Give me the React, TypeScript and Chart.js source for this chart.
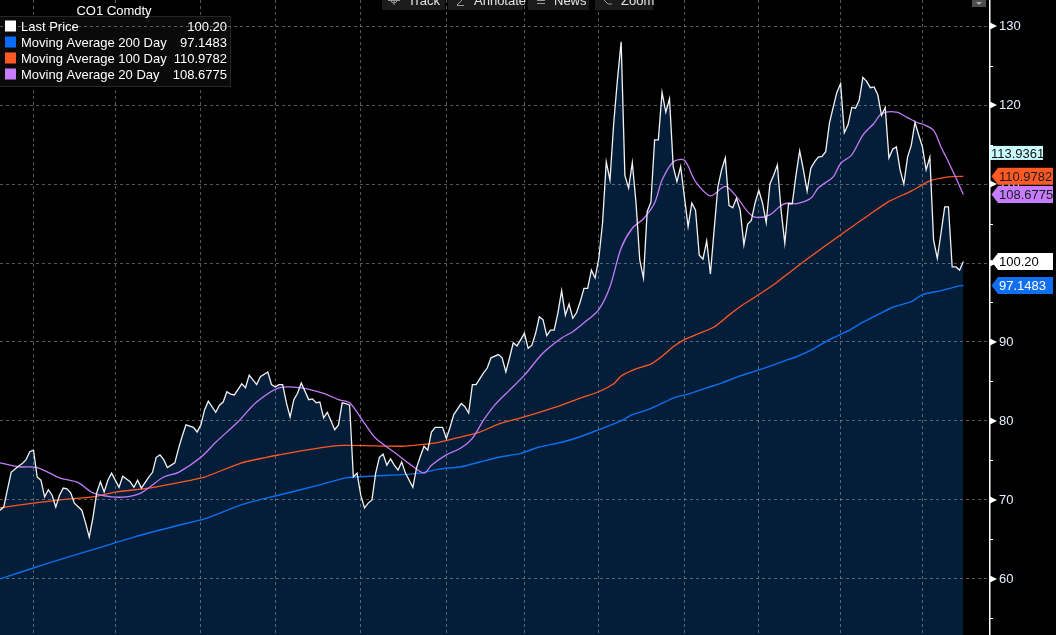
import React, { useEffect, useRef } from "react";
import { Chart, registerables } from "chart.js";

Chart.register(...registerables);

const FONT = '"Liberation Sans", Arial, sans-serif';

// ---- text ----
const chartTitle = "CO1 Comdty";
const seriesNames = ["Last Price", "Moving Average 200 Day", "Moving Average 100 Day", "Moving Average 20 Day"];
const lastValueLabels = ["100.20", "97.1483", "110.9782", "108.6775"];
const lastValues = [100.2, 97.1483, 110.9782, 108.6775];
const markerValue = 113.9361;
const markerLabel = "113.9361";
const toolbarButtons = ["Track", "Annotate", "News", "Zoom"];

// ---- axes ----
const yMin = 52.9;
const yMax = 133.3;
const yMajorTicks = [60, 70, 80, 90, 100, 110, 120, 130];
const yMinorTicks = [55, 65, 75, 85, 95, 105, 115, 125];
const sessionMax = 265.9;
// first trading session of each month (Aug .. Jul)
const monthStartSessions = [9, 31, 54, 74, 97, 120, 141, 161, 184, 204, 226, 248];

// ---- Last Price ----
const priceSessions = [
  0, 1, 2, 3, 5, 6, 7, 8, 9, 10, 11, 12, 13, 14, 15, 16, 17, 18, 19, 20,
  22, 23, 24, 25, 26, 27, 28, 29, 30, 32, 33, 35, 36, 37, 38, 40, 41, 42, 43, 44,
  45, 47, 48, 49, 50, 52, 53, 54, 55, 56, 58, 59, 60, 61, 62, 63, 65, 66, 67, 69,
  70, 72, 73, 74, 75, 76, 77, 78, 79, 80, 81, 83, 84, 85, 86, 87, 88, 90, 91, 92,
  93, 94, 95, 96, 97, 98, 99, 100, 101, 102, 103, 104, 105, 106, 107, 108, 109, 111, 112, 113,
  114, 115, 116, 117, 119, 120, 121, 122, 124, 125, 126, 127, 128, 130, 131, 132, 134, 135, 136, 137,
  138, 139, 140, 141, 142, 143, 144, 145, 146, 147, 148, 149, 150, 151, 152, 153, 154, 155, 156, 157,
  158, 159, 160, 161, 162, 163, 164, 165, 166, 167, 168, 169, 170, 171, 172, 173, 174, 175, 176, 177,
  178, 179, 180, 181, 182, 183, 184, 185, 186, 187, 188, 189, 190, 191, 192, 193, 194, 195, 196, 197,
  198, 199, 200, 201, 202, 203, 204, 205, 206, 207, 208, 209, 210, 211, 212, 213, 214, 215, 216, 217,
  218, 219, 220, 221, 222, 223, 224, 225, 226, 227, 228, 229, 230, 231, 232, 233, 234, 235, 236, 237,
  238, 239, 240, 241, 242, 243, 244, 245, 246, 247, 248, 249, 250, 251, 252, 253, 254, 255, 256, 257,
  258, 259,
];
const priceValues = [
  68.7, 69.1, 71.3, 73.5, 74.3, 74.6, 75.1, 76.1, 76.3, 72.9, 72.5, 70.4, 71.3, 70.6, 69.1, 70.6, 71.5, 71.4, 70.9, 69.6,
  68.7, 67.1, 65.3, 67.8, 70.9, 72.3, 71.0, 72.5, 73.4, 71.6, 73.0, 72.3, 71.6, 72.5, 71.5, 72.9, 73.5, 75.4, 75.7, 75.1,
  74.1, 74.7, 76.5, 78.1, 79.5, 79.2, 78.6, 79.5, 81.4, 82.5, 81.1, 82.0, 82.4, 83.7, 83.4, 83.3, 84.7, 84.2, 85.8, 84.6,
  85.6, 86.2, 84.6, 84.3, 84.6, 84.6, 82.3, 80.5, 82.7, 83.5, 84.8, 82.7, 82.8, 82.3, 82.4, 80.4, 81.1, 78.9, 79.5, 82.3,
  82.2, 82.0, 72.9, 73.4, 70.6, 69.0, 69.6, 70.0, 73.4, 75.4, 75.8, 74.4, 75.2, 74.4, 73.8, 74.8, 73.4, 71.6, 74.1, 75.5,
  76.8, 76.3, 78.6, 79.2, 79.2, 77.8, 79.2, 80.8, 82.2, 81.8, 81.0, 84.6, 84.6, 86.1, 86.7, 88.0, 88.4, 88.0, 86.2, 88.0,
  89.9, 89.5, 90.3, 91.1, 89.2, 89.6, 91.1, 93.2, 92.8, 90.8, 91.5, 91.5, 93.7, 96.5, 93.4, 94.8, 93.0, 93.7, 95.1, 96.8,
  96.8, 99.1, 98.1, 100.6, 105.1, 112.8, 110.5, 117.7, 123.2, 128.0, 111.1, 109.5, 112.7, 107.6, 100.4, 98.1, 106.5, 107.7, 115.6, 115.6,
  121.6, 119.1, 120.8, 112.2, 110.3, 112.2, 108.4, 104.6, 107.6, 106.7, 101.0, 100.5, 102.8, 98.6, 104.2, 109.6, 111.8, 113.3, 107.3, 107.0,
  108.2, 106.7, 102.3, 104.9, 105.4, 107.6, 109.2, 107.6, 105.1, 110.0, 111.1, 112.4, 106.7, 102.5, 107.5, 107.5, 111.1, 114.2, 111.8, 109.1,
  112.0, 112.8, 113.4, 113.5, 114.1, 117.7, 119.7, 121.6, 122.7, 116.5, 117.5, 119.7, 119.6, 120.6, 123.5, 123.0, 122.2, 122.3, 121.3, 118.7,
  119.7, 113.3, 114.4, 114.7, 111.8, 110.0, 113.4, 114.9, 117.8, 116.2, 114.7, 111.8, 113.4, 102.9, 100.6, 103.8, 107.1, 107.1, 99.5, 99.5,
  99.1, 100.2,
];

// ---- Moving Average 20 Day ----
const ma20Sessions = [
  0, 5, 10, 16, 21, 25, 30, 34, 38, 44, 48, 54, 58, 64, 69, 75, 81, 87, 91, 94,
  98, 101, 107, 110, 114, 116, 120, 124, 127, 130, 133, 137, 141, 146, 151, 154, 158, 161, 164, 167,
  170, 173, 176, 178, 181, 184, 187, 191, 195, 198, 201, 203, 207, 210, 212, 214, 218, 220, 224, 226,
  229, 232, 235, 237, 241, 244, 247, 248, 251, 253, 255, 257, 259,
];
const ma20Values = [
  74.7, 74.2, 74.1, 72.8, 72.2, 70.9, 70.4, 70.4, 70.9, 72.9, 73.5, 75.4, 77.3, 79.9, 82.4, 84.2, 84.2, 83.5, 82.7, 82.3,
  79.7, 77.8, 75.7, 74.6, 73.4, 74.4, 75.7, 76.6, 77.8, 80.1, 82.0, 83.9, 85.8, 88.6, 90.5, 91.3, 92.8, 94.1, 97.0, 101.9,
  104.4, 105.6, 107.6, 110.5, 112.8, 113.0, 110.3, 108.5, 109.7, 108.4, 106.5, 105.8, 106.1, 107.3, 107.6, 107.5, 108.2, 109.5, 110.9, 112.6,
  113.7, 116.2, 117.7, 118.9, 119.1, 118.4, 117.7, 117.6, 116.8, 114.7, 112.8, 110.8, 108.6775,
];

// ---- Moving Average 100 Day ----
const ma100Sessions = [
  0, 9, 18, 25, 31, 40, 48, 55, 65, 75, 86, 92, 108, 113, 118, 124, 129, 134, 140, 145,
  151, 156, 161, 165, 167, 171, 175, 178, 181, 184, 188, 192, 196, 200, 203, 205, 209, 212, 217, 227,
  234, 239, 245, 250, 255, 259,
];
const ma100Values = [
  69.0, 69.6, 70.1, 70.4, 71.0, 71.5, 72.2, 72.9, 74.7, 75.7, 76.6, 76.9, 76.8, 77.0, 77.3, 78.0, 78.6, 79.6, 80.4, 81.1,
  82.0, 82.9, 83.7, 84.7, 85.7, 86.6, 87.2, 88.2, 89.4, 90.3, 91.1, 91.9, 93.4, 94.8, 95.7, 96.3, 97.6, 98.7, 100.5, 103.9,
  106.2, 107.8, 109.1, 110.4, 110.9, 110.9782,
];

// ---- Moving Average 200 Day ----
const ma200Sessions = [
  0, 13, 27, 36, 48, 55, 65, 74, 86, 93, 108, 113, 118, 124, 129, 134, 140, 145, 151, 156,
  161, 167, 170, 174, 177, 181, 185, 190, 194, 199, 203, 208, 212, 214, 219, 223, 228, 232, 237, 240,
  245, 248, 253, 258, 259,
];
const ma200Values = [
  60.0, 62.0, 64.0, 65.3, 66.8, 67.6, 69.4, 70.5, 71.9, 72.8, 73.2, 73.4, 73.9, 74.2, 74.8, 75.4, 75.9, 76.7, 77.3, 78.0,
  78.9, 80.0, 80.8, 81.4, 82.0, 82.9, 83.4, 84.2, 84.8, 85.7, 86.3, 87.1, 87.8, 88.1, 89.2, 90.3, 91.4, 92.5, 93.7, 94.4,
  95.1, 96.0, 96.5, 97.1, 97.1483,
];

// ---- colours ----
const WHITE = "#f2f2f2";
const BLUE = "#0d6ff0";
const ORANGE = "#ff5722";
const PURPLE = "#c27cf8";
const FILL = "#041e3a";
const GRID = "rgba(160,160,160,0.55)";
const seriesColors = ["#ffffff", "#0a6cff", "#ff5a26", "#c77dff"];

const toXY = (xs: number[], ys: number[]) => xs.map((x, i) => ({ x, y: ys[i] }));

function drawTag(ctx: CanvasRenderingContext2D, axisX: number, yPix: number, text: string, bg: string, fg: string) {
  const h = 17;
  const tip = axisX + 2.5;
  const left = axisX + 9;
  const right = axisX + 64;
  ctx.fillStyle = bg;
  ctx.beginPath();
  ctx.moveTo(tip, yPix);
  ctx.lineTo(left, yPix - h / 2);
  ctx.lineTo(right, yPix - h / 2);
  ctx.lineTo(right, yPix + h / 2);
  ctx.lineTo(left, yPix + h / 2);
  ctx.closePath();
  ctx.fill();
  ctx.fillStyle = fg;
  ctx.font = `13px ${FONT}`;
  ctx.textAlign = "left";
  ctx.textBaseline = "middle";
  ctx.fillText(text, left + 1, yPix + 1);
}

const noPadding = (scale: any) => {
  scale.paddingTop = 0;
  scale.paddingBottom = 0;
  scale.paddingLeft = 0;
  scale.paddingRight = 0;
};

const overlayPlugin = {
  id: "overlay",
  afterDraw(chart: any) {
    const { ctx, chartArea, scales } = chart;
    const ys = scales.y;
    const axisX = chartArea.right;
    ctx.save();

    // axis line
    ctx.strokeStyle = "#ffffff";
    ctx.lineWidth = 1.5;
    ctx.beginPath();
    ctx.moveTo(axisX + 0.75, 0);
    ctx.lineTo(axisX + 0.75, chart.height);
    ctx.stroke();

    // tick markers
    ctx.fillStyle = "#ffffff";
    yMajorTicks.forEach((v) => {
      const py = ys.getPixelForValue(v);
      ctx.beginPath();
      ctx.moveTo(axisX + 1, py - 3.5);
      ctx.lineTo(axisX + 8, py);
      ctx.lineTo(axisX + 1, py + 3.5);
      ctx.closePath();
      ctx.fill();
    });
    ctx.lineWidth = 1;
    yMinorTicks.forEach((v) => {
      const py = Math.round(ys.getPixelForValue(v)) + 0.5;
      ctx.beginPath();
      ctx.moveTo(axisX, py);
      ctx.lineTo(axisX + 4, py);
      ctx.stroke();
    });

    // marker box (no arrow)
    const my = ys.getPixelForValue(markerValue);
    ctx.fillStyle = "#cafcff";
    ctx.fillRect(axisX + 1, my - 7, 53, 14);
    ctx.fillStyle = "#111";
    ctx.font = `13px ${FONT}`;
    ctx.textAlign = "left";
    ctx.textBaseline = "middle";
    ctx.fillText(markerLabel, axisX + 2, my + 1);

    // last value tags
    drawTag(ctx, axisX, ys.getPixelForValue(lastValues[2]), lastValueLabels[2], "#ff5a26", "#1a1a1a");
    drawTag(ctx, axisX, ys.getPixelForValue(lastValues[3]), lastValueLabels[3], "#c77dff", "#1a1a1a");
    drawTag(ctx, axisX, ys.getPixelForValue(lastValues[0]), lastValueLabels[0], "#ffffff", "#000000");
    drawTag(ctx, axisX, ys.getPixelForValue(lastValues[1]), lastValueLabels[1], "#0f6ff0", "#ffffff");

    // legend box
    ctx.fillStyle = "#0a0a0a";
    ctx.fillRect(0, 16, 231, 71);
    ctx.strokeStyle = "#262626";
    ctx.lineWidth = 1;
    ctx.strokeRect(-0.5, 16.5, 231, 70);
    const y130 = Math.round(ys.getPixelForValue(130)) + 0.5;
    ctx.strokeStyle = GRID;
    ctx.setLineDash([3, 3]);
    ctx.beginPath();
    ctx.moveTo(0, y130);
    ctx.lineTo(231, y130);
    ctx.stroke();
    ctx.setLineDash([]);

    ctx.font = `13px ${FONT}`;
    ctx.fillStyle = "#ffffff";
    ctx.textBaseline = "alphabetic";
    ctx.textAlign = "center";
    ctx.fillText(chartTitle, 114, 15);
    seriesNames.forEach((name, i) => {
      const base = 31 + i * 16;
      ctx.fillStyle = seriesColors[i];
      ctx.fillRect(5, base - 10.5, 11, 11);
      ctx.fillStyle = "#ffffff";
      ctx.textAlign = "left";
      ctx.fillText(name, 21, base);
      ctx.textAlign = "right";
      ctx.fillText(lastValueLabels[i], 227, base);
    });

    // toolbar (cut off at the top edge)
    const spans = [
      [382, 445],
      [448, 523],
      [528, 589],
      [595, 653],
    ];
    toolbarButtons.forEach((label, i) => {
      const [x0, x1] = spans[i];
      ctx.fillStyle = "#1b1b1b";
      ctx.fillRect(x0, 0, x1 - x0, 10);
      ctx.strokeStyle = "#9a9a9a";
      ctx.lineWidth = 1;
      const ix = x0 + 9;
      ctx.beginPath();
      if (i === 0) {
        ctx.arc(ix + 3, 0, 3, 0, Math.PI);
        ctx.moveTo(ix - 3, 0.5);
        ctx.lineTo(ix + 9, 0.5);
        ctx.moveTo(ix + 3, 0);
        ctx.lineTo(ix + 3, 5);
      } else if (i === 1) {
        ctx.moveTo(ix, 5.5);
        ctx.lineTo(ix + 7, 5.5);
        ctx.moveTo(ix, 5);
        ctx.lineTo(ix + 5, 0);
      } else if (i === 2) {
        ctx.moveTo(ix, 0.5);
        ctx.lineTo(ix + 8, 0.5);
        ctx.moveTo(ix, 3.5);
        ctx.lineTo(ix + 8, 3.5);
      } else {
        ctx.moveTo(ix, 0);
        ctx.lineTo(ix + 4, 4);
        ctx.lineTo(ix + 8, 4);
      }
      ctx.stroke();
      ctx.fillStyle = "#e4e4e4";
      ctx.textAlign = "left";
      ctx.textBaseline = "alphabetic";
      ctx.font = `13px ${FONT}`;
      ctx.fillText(label, x0 + 26, 5);
    });

    // small menu button top right
    ctx.fillStyle = "#4d4d4d";
    ctx.fillRect(axisX - 17, 0, 14, 7);
    ctx.fillStyle = "#aaaaaa";
    ctx.beginPath();
    ctx.moveTo(axisX - 13, 2);
    ctx.lineTo(axisX - 7, 2);
    ctx.lineTo(axisX - 10, 5);
    ctx.closePath();
    ctx.fill();

    ctx.restore();
  },
};

export default function App() {
  const canvasRef = useRef<HTMLCanvasElement>(null);

  useEffect(() => {
    const canvas = canvasRef.current;
    if (!canvas) return;
    const chart = new Chart(canvas, {
      type: "line",
      data: {
        datasets: [
          {
            label: seriesNames[0],
            data: toXY(priceSessions, priceValues),
            borderColor: WHITE,
            borderWidth: 1.3,
            backgroundColor: FILL,
            fill: "start",
            pointRadius: 0,
            tension: 0,
          },
          {
            label: seriesNames[3],
            data: toXY(ma20Sessions, ma20Values),
            borderColor: PURPLE,
            borderWidth: 1.3,
            fill: false,
            pointRadius: 0,
            tension: 0.3,
          },
          {
            label: seriesNames[2],
            data: toXY(ma100Sessions, ma100Values),
            borderColor: ORANGE,
            borderWidth: 1.3,
            fill: false,
            pointRadius: 0,
            tension: 0.2,
          },
          {
            label: seriesNames[1],
            data: toXY(ma200Sessions, ma200Values),
            borderColor: BLUE,
            borderWidth: 1.4,
            fill: false,
            pointRadius: 0,
            tension: 0.2,
          },
        ],
      },
      options: {
        animation: false,
        responsive: true,
        maintainAspectRatio: false,
        layout: { padding: 0 },
        events: [],
        plugins: {
          legend: { display: false },
          tooltip: { enabled: false },
          filler: { drawTime: "beforeDraw" },
        } as any,
        scales: {
          x: {
            type: "linear",
            min: 0,
            max: sessionMax,
            afterBuildTicks: (scale: any) => {
              scale.ticks = monthStartSessions.map((value) => ({ value }));
            },
            afterFit: (scale: any) => {
              scale.height = 0;
              noPadding(scale);
            },
            ticks: { display: false, padding: 0 },
            grid: { color: GRID, lineWidth: 1, drawTicks: false },
            border: { display: false, dash: [3, 3] },
          },
          y: {
            type: "linear",
            position: "right",
            min: yMin,
            max: yMax,
            afterBuildTicks: (scale: any) => {
              scale.ticks = [...yMajorTicks, ...yMinorTicks].sort((a, b) => a - b).map((value) => ({ value }));
            },
            afterFit: (scale: any) => {
              scale.width = 67;
              noPadding(scale);
            },
            ticks: {
              autoSkip: false,
              padding: 10,
              color: "#e6eeff",
              font: { family: FONT, size: 13 },
              callback: (v: any) => (yMajorTicks.includes(Number(v)) ? String(v) : ""),
            },
            grid: {
              drawTicks: false,
              lineWidth: 1,
              color: (c: any) => (c.tick && yMajorTicks.includes(c.tick.value) ? GRID : "rgba(0,0,0,0)"),
            },
            border: { display: false, dash: [3, 3] },
          },
        },
      },
      plugins: [overlayPlugin],
    } as any);
    return () => chart.destroy();
  }, []);

  return (
    <div style={{ position: "fixed", left: 0, top: 0, width: 1056, height: 635, background: "#000" }}>
      <canvas ref={canvasRef} />
    </div>
  );
}
